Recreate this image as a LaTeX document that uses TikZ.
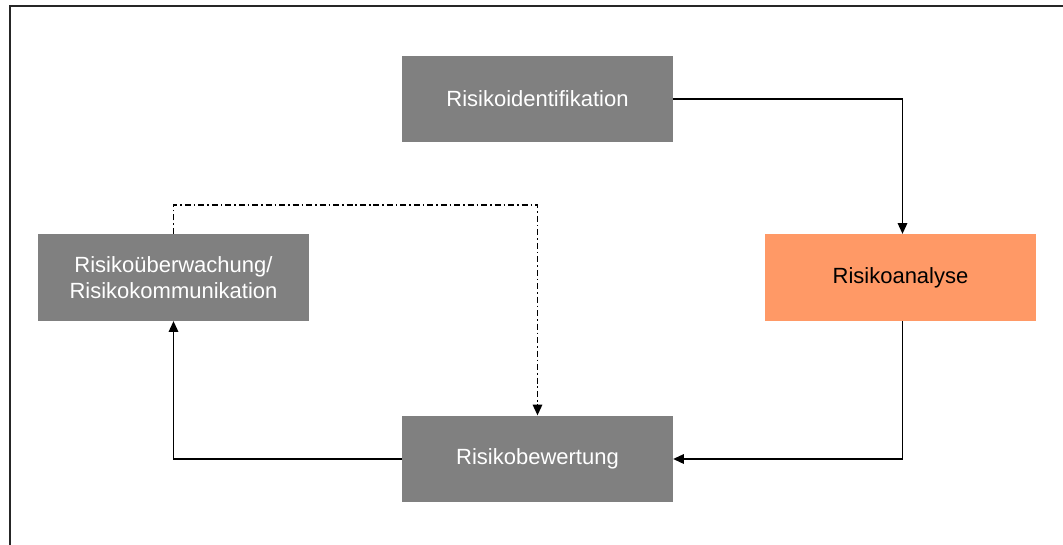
\documentclass[tikz,border=0pt]{standalone}
\usepackage{fontspec}
\setmainfont{Liberation Sans}
\usetikzlibrary{arrows.meta}

\definecolor{kastengrau}{HTML}{808080}
\definecolor{kastenorange}{HTML}{FF9966}

\tikzset{
  kasten/.style={fill=kastengrau, text=white, inner sep=0pt,
    minimum width=203pt, minimum height=65pt, align=center,
    font=\fontsize{16.5}{19.5}\selectfont},
  pfeil/.style={line width=1.35pt, -{Triangle[length=8pt, width=7pt]}},
  strichpunkt/.style={pfeil, dash pattern=on 4.5pt off 2.2pt on 1.2pt off 2.2pt}
}

\begin{document}
\begin{tikzpicture}[x=0.75pt, y=-0.75pt]

  \useasboundingbox (0,0) rectangle (1063,545);

  % rahmen
  \draw[line width=1.5pt, black!85] (10,545) -- (10,6) -- (1063,6);

  \node[kasten] (ident)   at (537.5,  99) {Risikoidentifikation};
  \node[kasten] (ueber)   at (173.5, 277.5) {Risikoüberwachung/\\Risikokommunikation};
  \node[kasten, fill=kastenorange, text=black] (analyse) at (900.5, 277.5) {Risikoanalyse};
  \node[kasten] (bewert)  at (537.5, 459) {Risikobewertung};

  \draw[pfeil] (ident.east) -| ([xshift=1.5pt]analyse.north);
  \draw[pfeil] ([xshift=1.5pt]analyse.south) |- (bewert.east);
  \draw[pfeil] (bewert.west) -| (ueber.south);

%  rueckkopplung
  \draw[strichpunkt] (ueber.north) -- ++(0,-29) -| (bewert.north);

\end{tikzpicture}
\end{document}
